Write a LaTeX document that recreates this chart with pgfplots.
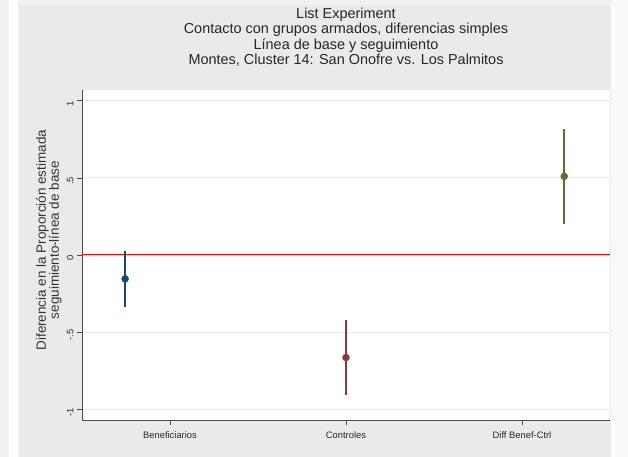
\documentclass[border=0pt]{standalone}
\usepackage{pgfplots}
\pgfplotsset{compat=1.18}
\usepackage{fontspec}
\setmainfont{Liberation Sans}

\definecolor{stnavy}{HTML}{1A476F}
\definecolor{stmaroon}{HTML}{90353B}
\definecolor{stforest}{HTML}{55752F}
\definecolor{gridc}{HTML}{E6EEF0}
\definecolor{bgouter}{HTML}{F1F1F1}
\definecolor{bgregion}{HTML}{EAEAEA}

\begin{document}
\begin{tikzpicture}[x=1bp,y=1bp]
\path[use as bounding box] (0,0) rectangle (628,457);
\fill[bgouter] (0,0) rectangle (628,457);
\fill[white] (9,0) rectangle (18,457);
\fill[bgregion] (19,0) rectangle (611,452);
\fill[white!60!bgouter] (611,0) rectangle (628,457);

\node[align=center, font=\fontsize{14.5}{15.5}\selectfont, text=black!85] at (346,420)
  {List Experiment\\Contacto con grupos armados, diferencias simples\\Línea de base y seguimiento\\Montes, Cluster 14: San Onofre vs. Los Palmitos};

\begin{axis}[
    at={(82bp,37bp)}, anchor=south west,
    scale only axis, width=528bp, height=330bp,
    xmin=0.5, xmax=3.5, ymin=-1.07, ymax=1.07,
    axis x line*=bottom, axis y line*=left,
    axis line style={black!70, line width=0.8pt},
    xtick={1,2,3},
    xticklabels={Beneficiarios,Controles,Diff Benef-Ctrl},
    ytick={-1,-0.5,0,0.5,1},
    yticklabels={-1,-.5,0,.5,1},
    xticklabel style={font=\fontsize{9.4}{10}\selectfont, text=black!85, yshift=-3bp},
    yticklabel style={rotate=90, anchor=south, font=\fontsize{9.4}{10}\selectfont, text=black!85, xshift=-3bp},
    tick align=outside, major tick length=5bp,
    tick style={black!70, line width=0.6pt},
    ymajorgrids, grid style={gridc, line width=0.8pt},
    axis background/.style={fill=white},
    ylabel={Diferencia en la Proporción estimada\\seguimiento-línea de base},
    ylabel style={align=center, font=\fontsize{13.5}{13}\selectfont, text=black!80,
                  at={(axis description cs:-0.063,0.545)}, anchor=center},
]
% linea de cero
\addplot[red, line width=1bp, forget plot] coordinates {(0.5,0) (3.5,0)};

\addplot[stnavy, only marks, mark=*, mark size=3.5bp,
    error bars/.cd, y dir=both, y explicit, error mark=none,
    error bar style={line width=1.6bp, stnavy}]
    coordinates {(0.745,-0.155) += (0,0.181) -= (0,0.185)};

\addplot[stmaroon, only marks, mark=*, mark size=3.5bp,
    error bars/.cd, y dir=both, y explicit, error mark=none,
    error bar style={line width=1.6bp, stmaroon}]
    coordinates {(2,-0.665) += (0,0.245) -= (0,0.24)};

\addplot[stforest, only marks, mark=*, mark size=3.5bp,
    error bars/.cd, y dir=both, y explicit, error mark=none,
    error bar style={line width=1.6bp, stforest}]
    coordinates {(3.24,0.51) += (0,0.31) -= (0,0.31)};
\end{axis}
\end{tikzpicture}
\end{document}
